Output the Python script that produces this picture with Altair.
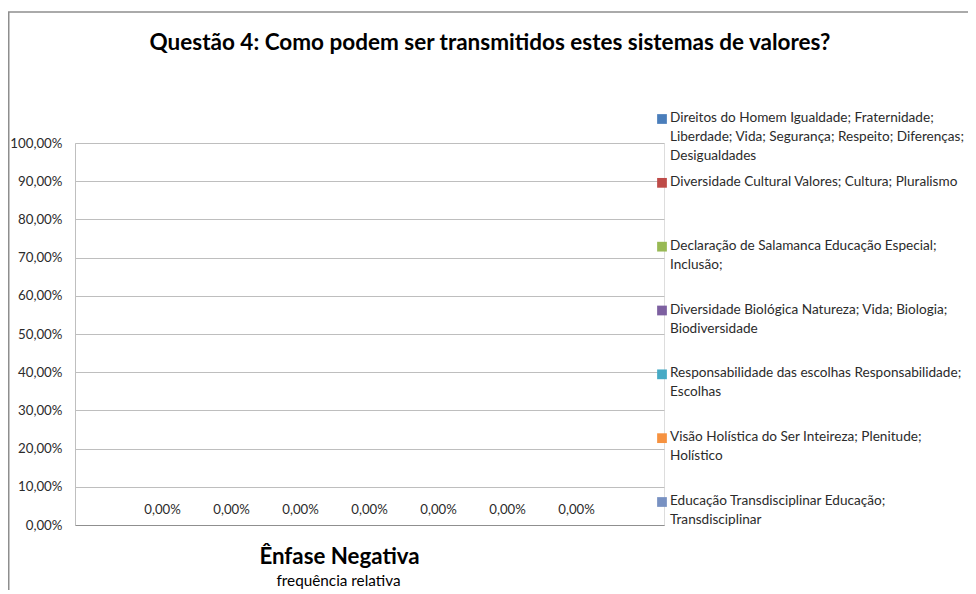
import altair as alt
import pandas as pd

# ---- data ----
category = "Ênfase Negativa"
series = [
    "Direitos do Homem Igualdade; Fraternidade;\nLiberdade; Vida; Segurança; Respeito; Diferenças;\nDesigualdades",
    "Diversidade Cultural Valores; Cultura; Pluralismo",
    "Declaração de Salamanca Educação Especial;\nInclusão;",
    "Diversidade Biológica Natureza; Vida; Biologia;\nBiodiversidade",
    "Responsabilidade das escolhas Responsabilidade;\nEscolhas",
    "Visão Holística do Ser Inteireza;  Plenitude;\nHolístico",
    "Educação Transdisciplinar Educação;\nTransdisciplinar",
]
values = [0.0, 0.0, 0.0, 0.0, 0.0, 0.0, 0.0]
colors = ["#4A7EBB", "#BE4B48", "#98B954", "#7D60A0", "#46AAC5", "#F69240", "#7891C2"]
y_ticks = [0.0, 0.1, 0.2, 0.3, 0.4, 0.5, 0.6, 0.7, 0.8, 0.9, 1.0]

title_text = ["Questão 4:  Como podem ser transmitidos estes sistemas de valores?"]
x_title = "frequência relativa"

df = pd.DataFrame({"categoria": [category] * len(series), "serie": series, "valor": values})
leg = pd.DataFrame({"serie": series})
tdf = pd.DataFrame({"t": title_text})

FONT = "Lato"
W, H = 589, 382
PAD_L, PAD_T, TOT_W, TOT_H = 67, 135, 960, 582

color_scale = alt.Scale(domain=series, range=colors)
pct_expr = "replace(format(datum.value, '.2%'), '.', ',')"

x_enc = alt.X("categoria:N", title=x_title,
              scale=alt.Scale(paddingInner=0, paddingOuter=0.1097),
              axis=alt.Axis(labelAngle=0, labelFont=FONT, labelFontSize=22.3, labelFontWeight="bold",
                            labelColor="#000000", labelPadding=20, labelOffset=-30, ticks=False,
                            domainColor="#8F8F8F", domainWidth=1,
                            titleFont=FONT, titleFontSize=15.3, titleFontWeight="normal",
                            titleColor="#000000", titlePadding=6, titleX=263, titleAlign="center",
                            titleAnchor="start"))
xo_enc = alt.XOffset("serie:N", sort=series, scale=alt.Scale(paddingInner=0, paddingOuter=0))
y_enc = alt.Y("valor:Q", title=None, scale=alt.Scale(domain=[0, 1]),
              axis=alt.Axis(values=y_ticks, labelExpr=pct_expr, labelFont=FONT, labelFontSize=13.3,
                            labelColor="#2b2b2b", labelPadding=13, ticks=False,
                            domainColor="#BFBFBF", gridColor="#BEBEBE", grid=True))

bars = alt.Chart(df).mark_bar().encode(
    x=x_enc, xOffset=xo_enc, y=y_enc,
    color=alt.Color("serie:N", scale=color_scale, legend=None),
)

labels = alt.Chart(df).transform_calculate(
    rotulo="replace(format(datum.valor, '.2%'), '.', ',')"
).mark_text(font=FONT, fontSize=13.2, color="#2b2b2b", baseline="middle", dy=-15).encode(
    x=x_enc, xOffset=xo_enc, y=y_enc, text="rotulo:N",
)

data_layer = alt.layer(bars, labels)

leg_y = alt.Y("serie:N", sort=series, axis=None,
              scale=alt.Scale(type="point", domain=series, range=[-24, 359], padding=0))

leg_sq = alt.Chart(leg).mark_square(size=95, opacity=1).encode(
    x=alt.value(587), y=leg_y,
    color=alt.Color("serie:N", scale=color_scale, legend=None),
)
leg_txt = alt.Chart(leg).mark_text(
    font=FONT, fontSize=13.6, color="#2b2b2b", align="left", baseline="top",
    dy=-8, lineBreak="\n", lineHeight=19
).encode(x=alt.value(595), y=leg_y, text="serie:N")

title_mark = alt.Chart(tdf).mark_text(
    font=FONT, fontSize=22.5, fontWeight="bold", color="#000000", align="center", baseline="middle"
).encode(x=alt.value(415), y=alt.value(-100), text="t:N")

frame_top = alt.Chart(tdf).mark_rule(color="#8E8E8E", strokeWidth=1.5).encode(
    x=alt.value(-PAD_L), x2=alt.value(TOT_W - PAD_L), y=alt.value(-131)
)
frame_left = alt.Chart(tdf).mark_rule(color="#8E8E8E", strokeWidth=1.5).encode(
    x=alt.value(-PAD_L + 0.75), y=alt.value(-131), y2=alt.value(TOT_H - PAD_T)
)

chart = alt.layer(data_layer, leg_sq, leg_txt, title_mark, frame_top, frame_left).resolve_scale(
    y="independent"
).properties(
    width=W, height=H,
    autosize=alt.AutoSizeParams(type="none"),
    padding={"left": PAD_L, "top": PAD_T, "right": TOT_W - PAD_L - W, "bottom": TOT_H - PAD_T - H},
).configure_view(strokeWidth=0).configure(background="#ffffff")

chart.save("out.html", embed_options={"renderer": "svg", "actions": False})
